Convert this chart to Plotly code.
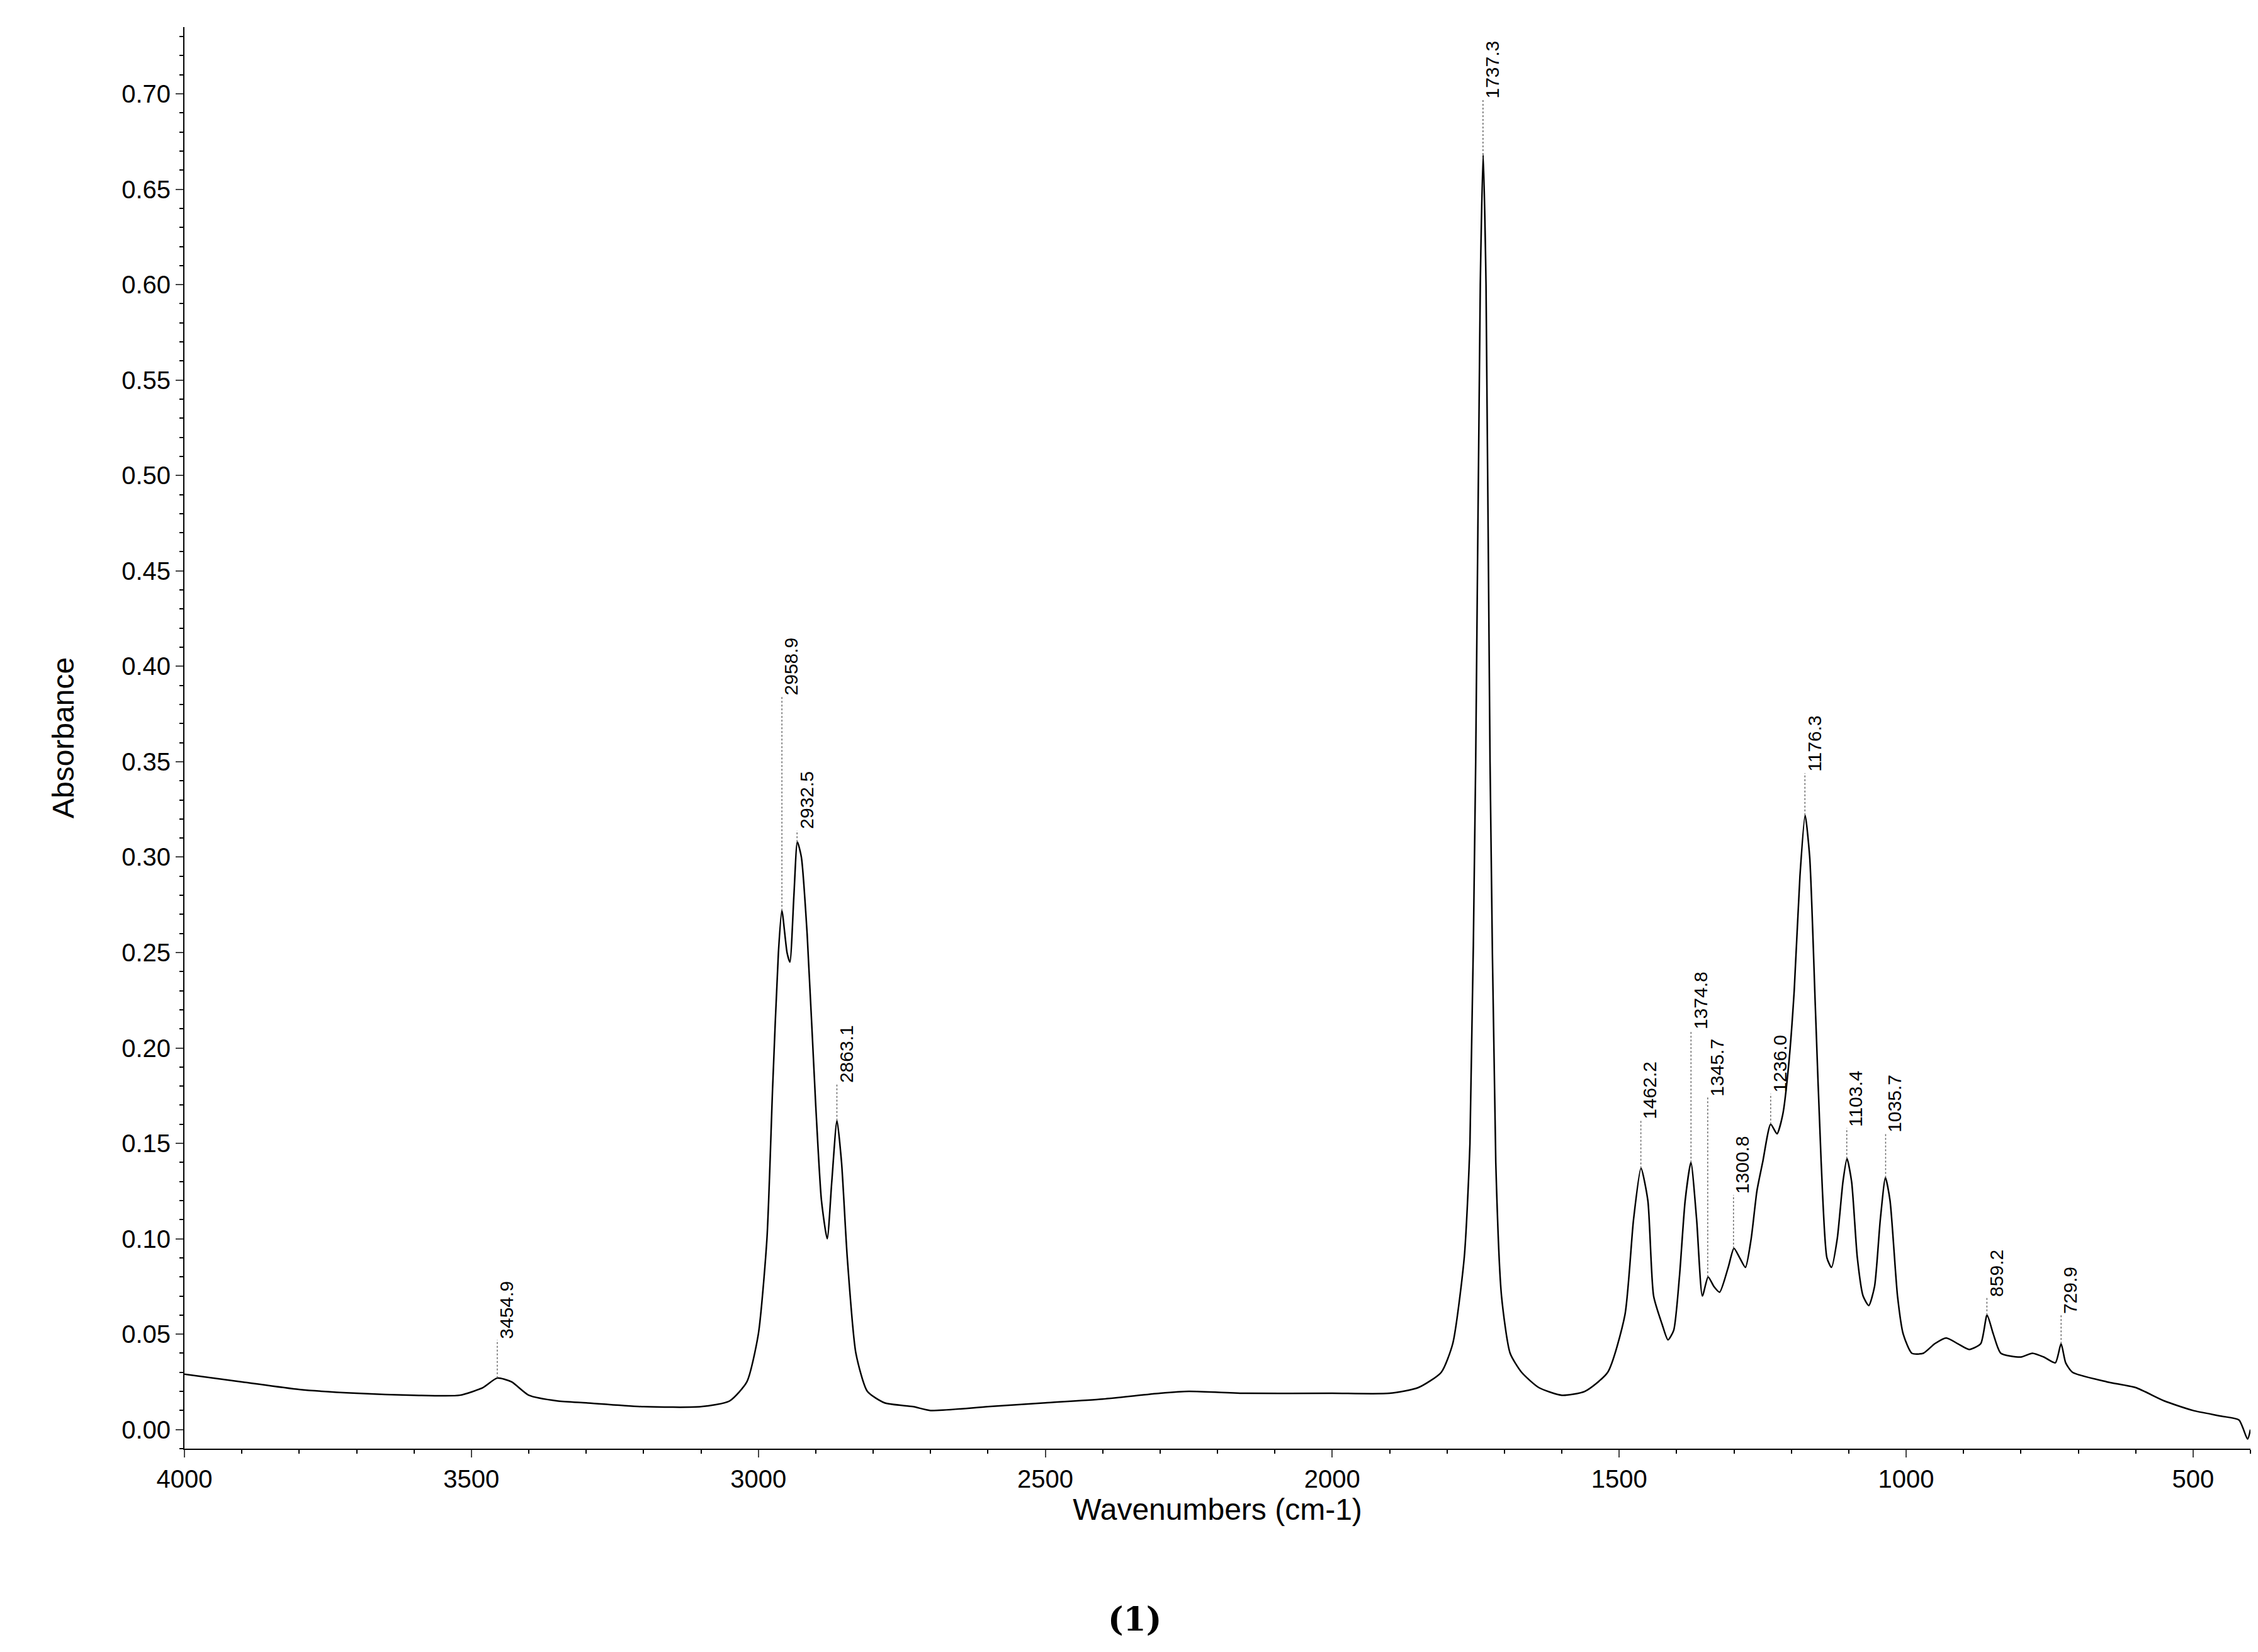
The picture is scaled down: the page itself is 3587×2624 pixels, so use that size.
import plotly.graph_objects as go

# spectrum
wavenumber = [4000, 3900, 3800, 3700, 3600, 3520, 3480, 3455, 3430, 3400, 3350, 3300, 3200, 3100, 3050, 3020,
              3000, 2985, 2975, 2965, 2959, 2950, 2945, 2938, 2932, 2925, 2915, 2900, 2890, 2880, 2872, 2863,
              2855, 2845, 2830, 2810, 2780, 2730, 2700, 2600, 2500, 2400, 2300, 2250, 2150, 2000, 1900, 1850,
              1810, 1790, 1770, 1760, 1750, 1742, 1737, 1732, 1725, 1715, 1705, 1690, 1670, 1640, 1600, 1560,
              1520, 1490, 1475, 1462, 1450, 1440, 1425, 1415, 1405, 1395, 1385, 1375, 1365, 1355, 1345, 1335,
              1325, 1310, 1300, 1290, 1280, 1270, 1260, 1250, 1236, 1225, 1215, 1205, 1195, 1185, 1176, 1168,
              1158, 1148, 1138, 1130, 1120, 1110, 1103, 1095, 1085, 1075, 1065, 1055, 1045, 1036, 1028, 1015,
              1005, 990, 970, 950, 930, 910, 890, 870, 859, 848, 835, 800, 780, 760, 740, 730, 722, 710, 650,
              600, 550, 500, 450, 420, 405, 400]
absorbance = [0.029, 0.025, 0.021, 0.019, 0.018, 0.018, 0.022, 0.027, 0.025, 0.018, 0.015, 0.014, 0.012, 0.012, 0.015, 0.025,
              0.05, 0.10, 0.18, 0.25, 0.272, 0.25, 0.245, 0.28, 0.308, 0.30, 0.26, 0.17, 0.12, 0.10, 0.13, 0.162,
              0.14, 0.09, 0.04, 0.02, 0.014, 0.012, 0.010, 0.012, 0.014, 0.016, 0.019, 0.020, 0.019, 0.019, 0.019, 0.022,
              0.03, 0.045, 0.09, 0.15, 0.35, 0.60, 0.668, 0.60, 0.35, 0.14, 0.07, 0.04, 0.03, 0.022, 0.018, 0.020,
              0.03, 0.06, 0.11, 0.137, 0.12, 0.07, 0.055, 0.047, 0.052, 0.08, 0.12, 0.14, 0.11, 0.07, 0.08, 0.075,
              0.072, 0.085, 0.095, 0.09, 0.085, 0.10, 0.125, 0.14, 0.16, 0.155, 0.165, 0.19, 0.23, 0.29, 0.322, 0.30,
              0.22, 0.14, 0.09, 0.085, 0.10, 0.13, 0.142, 0.13, 0.09, 0.07, 0.065, 0.075, 0.11, 0.132, 0.12, 0.07,
              0.05, 0.04, 0.04, 0.045, 0.048, 0.045, 0.042, 0.045, 0.06, 0.05, 0.04, 0.038, 0.04, 0.038, 0.035, 0.045,
              0.035, 0.03, 0.025, 0.022, 0.015, 0.010, 0.007, 0.005, -0.005, 0.0]

# peak labels: position, peak height, label bottom
peak_x = [3454.9, 2958.9, 2932.5, 2863.1, 1737.3, 1462.2, 1374.8, 1345.7, 1300.8, 1236.0, 1176.3, 1103.4, 1035.7, 859.2, 729.9]
peak_top = [0.027, 0.272, 0.308, 0.162, 0.668, 0.137, 0.14, 0.08, 0.095, 0.16, 0.322, 0.142, 0.132, 0.06, 0.045]
label_y = [0.047, 0.384, 0.314, 0.181, 0.697, 0.162, 0.209, 0.174, 0.123, 0.176, 0.344, 0.158, 0.155, 0.069, 0.060]

fig = go.Figure()
fig.add_trace(go.Scatter(x=wavenumber, y=absorbance, mode="lines",
                         line=dict(color="black", width=2.5, shape="spline", smoothing=0.6)))

for px_, top, ly in zip(peak_x, peak_top, label_y):
    fig.add_shape(type="line", x0=px_, x1=px_, y0=top, y1=ly,
                  line=dict(color="#666", width=1.5, dash="dot"))
    fig.add_annotation(x=px_, y=ly, text=f"{px_:.1f}", textangle=-90, showarrow=False,
                       xanchor="left", yanchor="bottom", xshift=-4, font=dict(size=30))

fig.add_annotation(text="<b>(1)</b>", xref="paper", yref="paper", x=0.46, y=-0.12,
                   showarrow=False, yanchor="middle", font=dict(size=52, family="DejaVu Serif"))

fig.update_layout(
    width=3587, height=2624, plot_bgcolor="white", paper_bgcolor="white", showlegend=False,
    margin=dict(l=285, r=20, t=35, b=331),
    font=dict(family="Liberation Sans", color="black", size=40),
    xaxis=dict(range=[4000, 400], tickvals=[4000, 3500, 3000, 2500, 2000, 1500, 1000, 500],
               title=dict(text="Wavenumbers (cm-1)", standoff=10), showgrid=False, zeroline=False,
               showline=True, linecolor="black", linewidth=2, ticks="outside", ticklen=12, tickwidth=2,
               minor=dict(ticks="outside", ticklen=6, dtick=100, tickcolor="black")),
    yaxis=dict(range=[-0.01, 0.735], tick0=0, dtick=0.05, tickformat=".2f",
               title=dict(text="Absorbance", standoff=60), showgrid=False, zeroline=False,
               showline=True, linecolor="black", linewidth=2, ticks="outside", ticklen=12, tickwidth=2,
               minor=dict(ticks="outside", ticklen=6, dtick=0.01, tickcolor="black")),
)
fig.write_html("out.html")
